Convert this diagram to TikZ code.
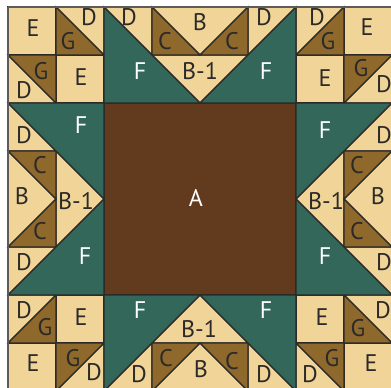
\documentclass[tikz,border=0pt]{standalone}
\usepackage{fontspec}
\setmainfont{PT Sans}
\definecolor{tan}{HTML}{F1D498}
\definecolor{gold}{HTML}{8F682C}
\definecolor{teal}{HTML}{33675A}
\definecolor{umber}{HTML}{623A1D}
\definecolor{seam}{HTML}{2B2A28}
\definecolor{rim}{HTML}{5E5C58}
\tikzset{
  seamline/.style={draw=seam,line width=1.1pt,line join=miter},
  tanp/.style={seamline,fill=tan},
  goldp/.style={seamline,fill=gold},
  tealp/.style={seamline,fill=teal},
  lab/.style={font=\fontsize{24}{24}\selectfont,text=seam,inner sep=0pt},
  wlab/.style={font=\fontsize{24}{24}\selectfont,text=white,inner sep=0pt}
}
\begin{document}
\begin{tikzpicture}[x=1pt,y=-1pt]
\useasboundingbox (0,0) rectangle (391,388);
\begin{scope}
\clip (0,0) rectangle (391,388);
\fill[white] (0,0) rectangle (391,388);
% centre
\draw[seamline,fill=umber] (104,103) rectangle (296,295);
% E squares
\foreach \a/\b in {8/7,56/55,344/7,296/55,56/295,8/343,296/295,344/343}
  \draw[tanp] (\a,\b) rectangle +(48,48);
% tan triangles
\foreach \ax/\ay/\bx/\by/\cx/\cy in {
  56/7/104/7/104/55, 8/55/8/103/56/103,
  296/7/344/7/296/55, 392/55/392/103/344/103,
  8/295/56/295/8/343, 104/343/104/391/56/391,
  344/295/392/295/392/343, 296/343/296/391/344/391,
  104/7/152/7/152/55, 152/7/248/7/200/55, 248/7/296/7/248/55, 152/55/248/55/200/103,
  104/391/152/391/152/343, 152/391/248/391/200/343, 248/391/296/391/248/343, 152/343/248/343/200/295,
  8/103/8/151/56/151, 8/151/8/247/56/199, 56/151/104/199/56/247, 8/247/56/247/8/295,
  392/103/392/151/344/151, 392/151/392/247/344/199, 344/151/296/199/344/247, 392/247/344/247/392/295}
  \draw[tanp] (\ax,\ay) -- (\bx,\by) -- (\cx,\cy) -- cycle;
% gold triangles
\foreach \ax/\ay/\bx/\by/\cx/\cy in {
  56/7/56/55/104/55, 8/55/56/55/56/103,
  344/7/344/55/296/55, 344/55/392/55/344/103,
  56/295/56/343/8/343, 56/343/104/343/56/391,
  344/295/392/343/344/343, 296/343/344/343/344/391,
  152/7/152/55/200/55, 248/7/248/55/200/55,
  152/391/152/343/200/343, 248/391/248/343/200/343,
  8/151/56/151/56/199, 8/247/56/247/56/199,
  392/151/344/151/344/199, 392/247/344/247/344/199}
  \draw[goldp] (\ax,\ay) -- (\bx,\by) -- (\cx,\cy) -- cycle;
% green triangles
\foreach \ax/\ay/\bx/\by/\cx/\cy in {
  104/7/104/103/200/103, 296/7/296/103/200/103,
  104/391/104/295/200/295, 296/391/296/295/200/295,
  8/103/104/103/104/199, 8/295/104/295/104/199,
  392/103/296/103/296/199, 392/295/296/295/296/199}
  \draw[tealp] (\ax,\ay) -- (\bx,\by) -- (\cx,\cy) -- cycle;
% lighter outer rim
\draw[rim,line width=1.1pt] (8,7) -- (8,391);
\draw[rim,line width=1.1pt] (8,7) -- (392,7);
\end{scope}
% dark labels
\foreach \x/\y/\t [count=\i] in {
  33/28/E, 89/17/D, 68/41/G, 41/71/G, 24/90/D, 81/77/E,
  129/17/D, 165/41/C, 200/22/B, 232/41/C, 264/17/D, 200/71/B-1,
  317/17/D, 328/41/G, 367/27/E, 325/78/E, 361/68/G, 384/84/D,
  24/135/D, 40/165/C, 22/196/B, 76/201/B-1, 40/231/C, 24/262/D,
  384/135/D, 357/165/C, 378/196/B, 326/201/B-1, 357/231/C, 384/262/D,
  199/329/B-1, 166/358/C, 201/369/B, 232/361/C, 139/374/D, 264/374/D,
  24/310/D, 45/327/G, 81/317/E, 33/363/E, 73/358/G, 94/372/D,
  322/317/E, 383/310/D, 358/328/G, 332/358/G, 310/374/D, 371/363/E}
  \node[lab] (dark\i) at (\x,\y) {\t};
% white labels
\foreach \x/\y/\t [count=\i] in {
  140/71/F, 266/71/F, 81/125/F, 85/256/F, 325/130/F, 325/256/F,
  140/310/F, 266/310/F, 196/198/A}
  \node[wlab] (light\i) at (\x,\y) {\t};
\end{tikzpicture}
\end{document}
